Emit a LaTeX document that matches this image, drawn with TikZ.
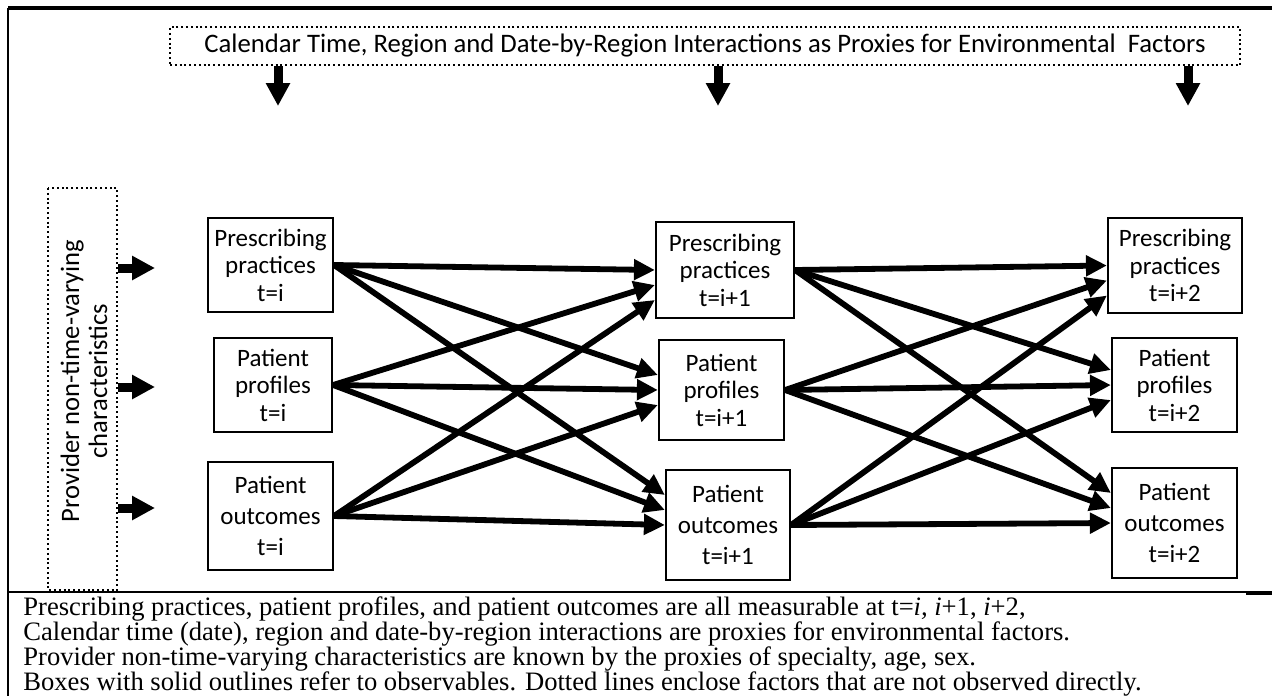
\documentclass[tikz,border=0pt]{standalone}
\usepackage{fontspec}
\setmainfont{Liberation Serif}
\newfontfamily\boxfont{Carlito}
\usetikzlibrary{arrows.meta}

\tikzset{
  obsbox/.style={draw, line width=1.1pt, align=center, inner sep=0pt,
    font=\boxfont\fontsize{12.5}{13.75}\selectfont},
  outbox/.style={obsbox, font=\boxfont\fontsize{12.5}{15.5}\selectfont},
  hidbox/.style={draw, line width=1pt, dash pattern=on 1pt off 1.4pt},
  link/.style={line width=2.9pt, -{Triangle[length=10.5pt,width=10pt]}},
  fat/.style={line width=4.5pt, -{Triangle[length=11.5pt,width=11.5pt]}},
  capline/.style={anchor=base west, inner sep=0pt, font=\fontsize{13.3}{14}\selectfont},
}

\begin{document}
\begin{tikzpicture}[x=0.5pt,y=-0.5pt]
  \useasboundingbox (0,0) rectangle (1272,696);

  % frame
  \draw[line width=2pt] (8,8) -- (1272,8);
  \draw[line width=1pt] (8,8) -- (8,696);
  \draw[line width=0.8pt] (8,592) -- (1246,592);
  \draw[line width=1.6pt] (1246,593) -- (1272,593);

  % unobserved factors
  \node[hidbox, minimum width=535pt, minimum height=19pt,
    font=\boxfont\fontsize{13.35}{14}\selectfont] (env) at (705,46)
    {Calendar Time, Region and Date-by-Region Interactions as Proxies for Environmental~ Factors};
  \node[hidbox, minimum width=201pt, minimum height=34.5pt, rotate=90] (prov) at (82.5,389) {};
  \node[rotate=90, align=center, inner sep=0pt,
    font=\boxfont\fontsize{13.3}{14}\selectfont] (provtext) at (84,381)
    {Provider non-time-varying\\characteristics};

  % observables, t=i
  \node[obsbox, minimum width=62.5pt, minimum height=47pt] (pp1) at (270.5,265)
    {Prescribing\\practices\\t=i};
  \node[obsbox, minimum width=59pt, minimum height=47pt] (pf1) at (273,385)
    {Patient\\profiles\\t=i};
  \node[outbox, minimum width=62.5pt, minimum height=54pt] (po1) at (270.5,516)
    {Patient\\outcomes\\t=i};
  % t=i+1
  \node[obsbox, minimum width=69pt, minimum height=48pt] (pp2) at (725,270)
    {Prescribing\\practices\\t=i+1};
  \node[obsbox, minimum width=62.5pt, minimum height=50pt] (pf2) at (721.5,390)
    {Patient\\profiles\\t=i+1};
  \node[outbox, minimum width=62pt, minimum height=55pt] (po2) at (728,525)
    {Patient\\outcomes\\t=i+1};
  % t=i+2
  \node[obsbox, minimum width=67pt, minimum height=47.5pt] (pp3) at (1175,265.5)
    {Prescribing\\practices\\t=i+2};
  \node[obsbox, minimum width=62.5pt, minimum height=47pt] (pf3) at (1174.5,385)
    {Patient\\profiles\\t=i+2};
  \node[outbox, minimum width=62.5pt, minimum height=55pt] (po3) at (1174.5,523)
    {Patient\\outcomes\\t=i+2};

  % block arrows
  \foreach \x in {278,718,1188}
    \draw[fat] ([xshift={(\x-705)*0.5pt}]env.south) -- ++(0,40);
  \foreach \r/\d in {pp1/-1.5pt,pf1/-1pt,po1/4pt}
    \draw[fat] ([yshift=\d]prov.south |- \r) -- ++(37,0);

  % links between time points
  \foreach \a/\b in {1/2,2/3} {
    \foreach \s [count=\si] in {pp,pf,po} {
      \foreach \t [count=\ti] in {pp,pf,po} {
        \draw[link] (\s\a.east) -- ([yshift={(\ti-\si)*7.5pt}]\t\b.west);
      }
    }
  }

  % caption
  \node[capline] (cap1) at (23,615)
    {Prescribing practices, patient profiles, and patient outcomes are all measurable at t=\textit{i,} \textit{i}+1, \textit{i}+2,};
  \node[capline] (cap2) at (23,640)
    {Calendar time (date), region and date-by-region interactions are proxies for environmental factors.};
  \node[capline] (cap3) at (23,665)
    {Provider non-time-varying characteristics are known by the proxies of specialty, age, sex.};
  \node[capline] (cap4) at (23,690)
    {Boxes with solid outlines refer to observables. Dotted lines enclose factors that are not observed directly.};
\end{tikzpicture}
\end{document}
